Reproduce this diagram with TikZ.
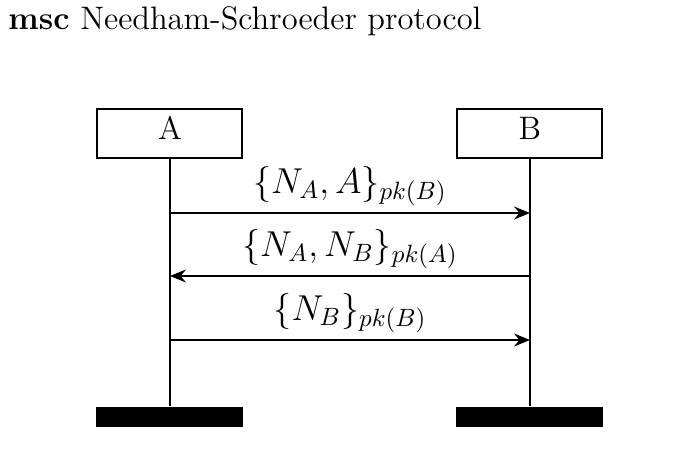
\documentclass[tikz,border=0pt]{standalone}
\usetikzlibrary{arrows.meta}
\begin{document}
\begin{tikzpicture}[x=0.4pt,y=-0.4pt,
  inst/.style={draw, line width=0.8pt, minimum width=58pt, minimum height=19.6pt, inner sep=0pt,
    text height=8.9pt, text depth=3.7pt, font=\fontsize{13}{15}\selectfont},
  instend/.style={fill=black, minimum width=58.8pt, minimum height=8pt, inner sep=0pt},
  life/.style={line width=0.8pt},
  msg/.style={line width=0.8pt, -{Stealth[length=6.4pt,width=5.2pt,inset=2.2pt]}},
  lab/.style={anchor=south, inner sep=2.4pt, font=\fontsize{14.2}{17}\selectfont}]
\useasboundingbox (0,0) rectangle (683,466);
\node[anchor=base west, inner sep=0pt, font=\fontsize{13}{15}\selectfont] (title) at (8,30) {\textbf{msc} Needham-Schroeder protocol};
\node[inst] (A) at (170,133.5) {A};
\node[inst] (B) at (530,133.5) {B};
\node[instend] (Aend) at (170,417) {};
\node[instend] (Bend) at (530,417) {};
\draw[life] (A.south) -- (Aend.north);
\draw[life] (B.south) -- (Bend.north);
\coordinate (a1) at (170,213); \coordinate (b1) at (530,213);
\coordinate (a2) at (170,276); \coordinate (b2) at (530,276);
\coordinate (a3) at (170,340); \coordinate (b3) at (530,340);
\draw[msg] (a1) -- node[lab] (l1) {$\{N_A,A\}_{pk(B)}$} (b1);
\draw[msg] (b2) -- node[lab] (l2) {$\{N_A,N_B\}_{pk(A)}$} (a2);
\draw[msg] (a3) -- node[lab] (l3) {$\{N_B\}_{pk(B)}$} (b3);
\end{tikzpicture}
\end{document}
